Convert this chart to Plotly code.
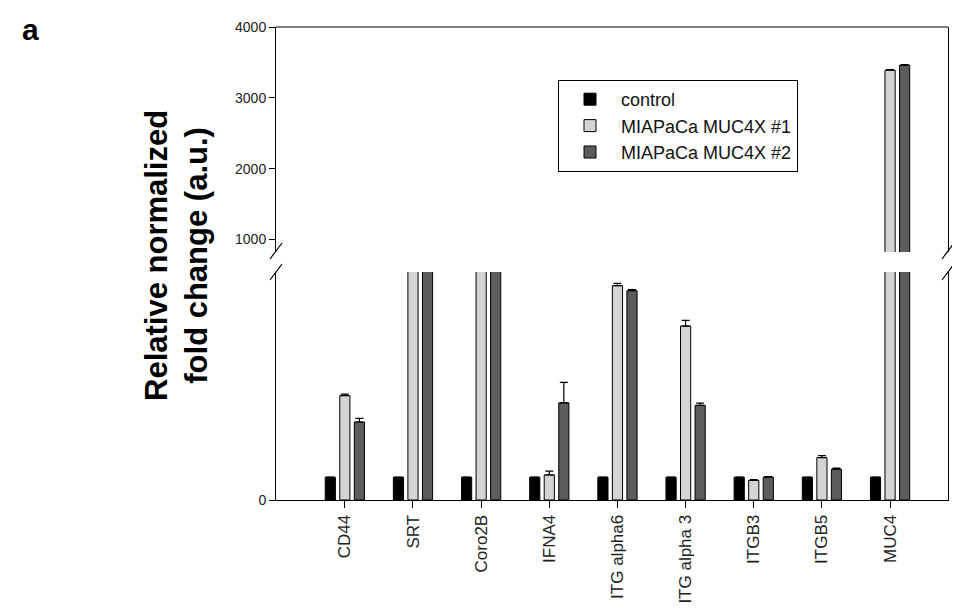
import plotly.graph_objects as go

genes = ["CD44", "SRT", "Coro2B", "IFNA4", "ITG alpha6", "ITG alpha 3", "ITGB3", "ITGB5", "MUC4"]
series_names = ["control", "MIAPaCa MUC4X #1", "MIAPaCa MUC4X #2"]

control = [1, 1, 1, 1, 1, 1, 1, 1, 1]
control_err = [0, 0, 0, 0, 0, 0, 0, 0, 0]
muc4x_1 = [4.58, 150, 160, 1.10, 9.40, 7.63, 0.86, 1.86, 3390]
muc4x_1_err = [0.06, 0, 0, 0.17, 0.10, 0.25, 0.03, 0.09, 10]
muc4x_2 = [3.42, 140, 170, 4.26, 9.18, 4.15, 1.0, 1.35, 3460]
muc4x_2_err = [0.16, 0, 0, 0.90, 0.05, 0.10, 0.03, 0.05, 10]

colors = ["#000000", "#d4d4d4", "#5c5c5c"]

FONT = "Liberation Sans, Arial, sans-serif"

# page offset (browser body margin)
OFF = 8
FIG_W, FIG_H = 960 - OFF, 616 - OFF
# plot-area pixel geometry in page coordinates
L, R, T, B = 276, 948, 27, 500
W, H = R - L, B - T
def px(x):
    return (x - L) / W
def py(y):
    return (B - y) / H

lower_top = py(272)
upper_bot = py(252)

fig = go.Figure()
data = [(control, control_err), (muc4x_1, muc4x_1_err), (muc4x_2, muc4x_2_err)]
for yax, show in (("y", True), ("y2", False)):
    for name, (vals, errs), col in zip(series_names, data, colors):
        fig.add_trace(go.Bar(
            x=genes, y=vals, name=name, showlegend=show, yaxis=yax,
            marker=dict(color=col, line=dict(color="#000000", width=1)),
            error_y=dict(type="data", array=errs, arrayminus=[0] * len(errs),
                         symmetric=False, color="#000000", thickness=1.2, width=4),
        ))

axis_common = dict(showline=True, linecolor="#000000", linewidth=1, mirror=True,
                   showgrid=False, zeroline=False, ticks="outside", ticklen=6,
                   tickcolor="#000000", tickfont=dict(family=FONT, size=14, color="#222222"))

fig.update_layout(
    width=FIG_W, height=FIG_H,
    margin=dict(l=L - OFF, r=FIG_W - (R - OFF), t=T - OFF, b=FIG_H - (B - OFF)),
    paper_bgcolor="white", plot_bgcolor="white",
    barmode="group", bargap=0.36, bargroupgap=0.3,
    xaxis=dict(showline=True, linecolor="#000000", linewidth=1, showgrid=False,
               ticks="outside", ticklen=7, tickcolor="#000000", tickangle=-90,
               tickfont=dict(family=FONT, size=17, color="#222222"),
               range=[-1.01, 8.85], anchor="y"),
    yaxis=dict(domain=[0, lower_top], range=[0, 10], tickvals=[0], ticktext=["0"],
               **axis_common),
    yaxis2=dict(domain=[upper_bot, 1], range=[823, 4000],
                tickvals=[1000, 2000, 3000, 4000], anchor="x", **axis_common),
    legend=dict(x=px(558), y=py(80), xanchor="left", yanchor="top",
                bordercolor="#000000", borderwidth=1, bgcolor="white",
                font=dict(family=FONT, size=18, color="#111111"),
                tracegroupgap=0, itemwidth=52),
    font=dict(family=FONT),
    showlegend=True,
)

shapes = []
# top frame line
shapes.append(dict(type="line", xref="paper", yref="paper", x0=0, x1=1, y0=1, y1=1,
                   line=dict(color="#000000", width=1)))
# axis break marks (left and right)
for xc in (L, R):
    for yc in (251, 272):
        shapes.append(dict(type="line", xref="paper", yref="paper",
                           x0=px(xc - 6), y0=py(yc + 8), x1=px(xc + 6), y1=py(yc - 8),
                           line=dict(color="#000000", width=1.2)))
fig.update_layout(shapes=shapes)

fig.add_annotation(text="<b>Relative normalized<br>fold change (a.u.)</b>", xref="paper", yref="paper",
                   x=px(176), y=py(256), xanchor="center", yanchor="middle",
                   textangle=-90, showarrow=False,
                   font=dict(family=FONT, size=31, color="#000000"))
fig.add_annotation(text="<b>a</b>", xref="paper", yref="paper", x=px(30), y=py(30),
                   xanchor="center", yanchor="middle",
                   showarrow=False, font=dict(family=FONT, size=30, color="#000000"))

fig.write_html("out.html")
